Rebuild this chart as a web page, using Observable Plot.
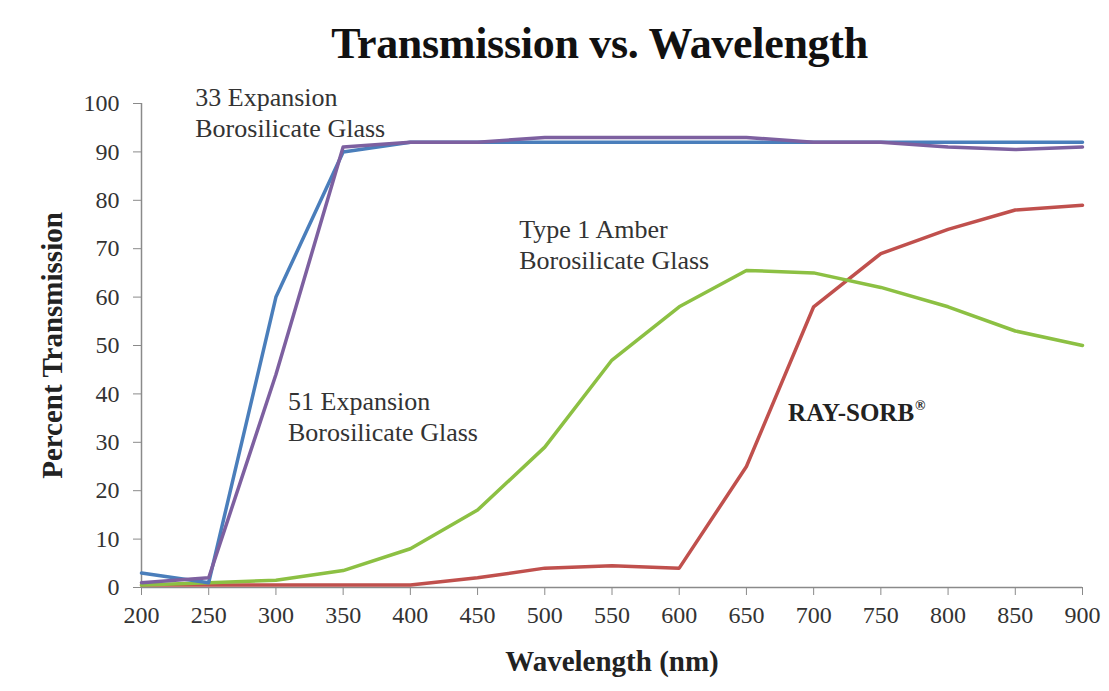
<!DOCTYPE html>
<html>
<head>
<meta charset="utf-8">
<script src="https://cdn.jsdelivr.net/npm/d3@7"></script>
<script src="https://cdn.jsdelivr.net/npm/@observablehq/plot@0.6"></script>
<style>
  body { margin: 0; background: #fff; }
  #title {
    height: 50px; box-sizing: border-box; padding-top: 22px; padding-left: 90px;
    font-family: "Liberation Serif", serif; font-weight: bold; font-size: 44px;
    line-height: 1; text-align: center; color: #111; letter-spacing: -0.3px;
    white-space: nowrap;
  }
  #chart svg { display: block; }
</style>
</head>
<body>
<div id="title">Transmission vs. Wavelength</div>
<div id="chart"></div>
<script>
// ---- data ----
const wavelengths = [200, 250, 300, 350, 400, 450, 500, 550, 600, 650, 700, 750, 800, 850, 900];
const exp33 =      [3, 1, 60, 90, 92, 92, 92, 92, 92, 92, 92, 92, 92, 92, 92];
const exp51 =      [1, 2, 44, 91, 92, 92, 93, 93, 93, 93, 92, 92, 91, 90.5, 91];
const amber =      [0.5, 1, 1.5, 3.5, 8, 16, 29, 47, 58, 65.5, 65, 62, 58, 53, 50];
const raySorb =    [0.5, 0.5, 0.5, 0.5, 0.5, 2, 4, 4.5, 4, 25, 58, 69, 74, 78, 79];
const seriesNames = ["RAY-SORB", "Type 1 Amber", "33 Expansion", "51 Expansion"];
const seriesColors = ["#c0504d", "#8cc043", "#4a7ebb", "#7d60a0"];
const xTicks = [200, 250, 300, 350, 400, 450, 500, 550, 600, 650, 700, 750, 800, 850, 900];
const yTicks = [0, 10, 20, 30, 40, 50, 60, 70, 80, 90, 100];
const annoText = ["33 Expansion\nBorosilicate Glass", "51 Expansion\nBorosilicate Glass", "Type 1 Amber\nBorosilicate Glass"];
const annoX = [240, 309, 481];
const annoY = [98.3, 35.5, 71];
const rayLabel = "RAY-SORB";
const regMark = "®";
const xLabel = "Wavelength (nm)";
const yLabel = "Percent Transmission";

const seriesValues = [raySorb, amber, exp33, exp51];
const rows = [];
seriesNames.forEach((s, i) => wavelengths.forEach((w, j) => rows.push({series: s, wl: w, t: seriesValues[i][j]})));
const annos = annoText.map((t, i) => ({text: t, x: annoX[i], y: annoY[i]}));

const serif = "'Liberation Serif', serif";
const chart = Plot.plot({
  width: 1109, height: 641,
  marginTop: 53, marginBottom: 104, marginLeft: 141, marginRight: 27,
  style: {fontFamily: serif, fontSize: "24px", color: "#333", background: "transparent"},
  x: {domain: [200, 900]},
  y: {domain: [0, 100]},
  color: {domain: seriesNames, range: seriesColors},
  marks: [
    Plot.ruleY([0], {stroke: "#8a8a8a", strokeWidth: 1.5}),
    Plot.ruleX([200], {y1: 0, y2: 100, stroke: "#8a8a8a", strokeWidth: 1.5}),
    Plot.axisX({ticks: xTicks, tickSize: 8, tickPadding: 10, stroke: "#8a8a8a", strokeOpacity: 1, label: null, fill: "#333", fontSize: 24, fontFamily: serif}),
    Plot.axisY({ticks: yTicks, tickSize: 8, tickPadding: 14, stroke: "#8a8a8a", strokeOpacity: 1, label: null, fill: "#333", fontSize: 24, fontFamily: serif}),
    Plot.line(rows, {x: "wl", y: "t", z: "series", stroke: "series", strokeWidth: 3.5}),
    Plot.text(annos, {x: "x", y: "y", text: "text", textAnchor: "start", lineAnchor: "middle", lineHeight: 1.2, fontSize: 26, fill: "#333", fontFamily: serif}),
    Plot.text([rayLabel], {x: 681, y: 36, text: d => d, textAnchor: "start", fontSize: 25, fontWeight: "bold", fill: "#222", fontFamily: serif}),
    Plot.text([regMark], {x: 681, y: 36, dx: 127, dy: -8, text: d => d, textAnchor: "start", fontSize: 14, fontWeight: "bold", fill: "#222", fontFamily: serif}),
    Plot.text([xLabel], {frameAnchor: "bottom", dy: 83, text: d => d, fontSize: 29, fontWeight: "bold", fill: "#222", fontFamily: serif}),
    Plot.text([yLabel], {frameAnchor: "left", dx: -89, rotate: -90, textAnchor: "middle", text: d => d, fontSize: 29, fontWeight: "bold", fill: "#222", fontFamily: serif})
  ]
});
document.getElementById("chart").append(chart);
</script>
</body>
</html>
